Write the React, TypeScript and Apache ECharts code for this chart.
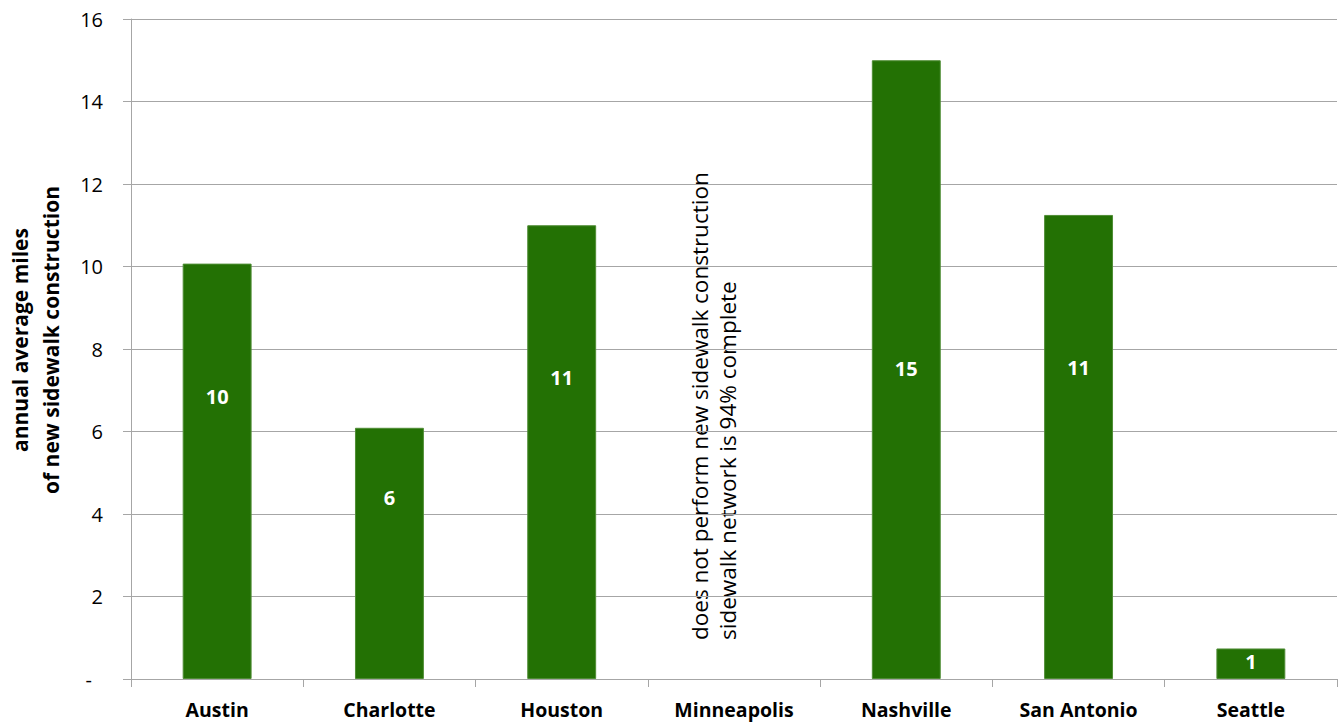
import React, { useEffect, useRef } from "react";
import * as echarts from "echarts";

// Cities and annual average miles of new sidewalk built
const cities = ["Austin", "Charlotte", "Houston", "Minneapolis", "Nashville", "San Antonio", "Seattle"];
const milesPerYear: (number | null)[] = [10.07, 6.09, 11.0, null, 15.0, 11.25, 0.74];
const yTicks = [0, 2, 4, 6, 8, 10, 12, 14, 16];

// Vertical shift (px) of each value label away from the bar centre
const labelShift = [-75, -56, -75, 0, -1, -79, -2];

const noteLines = [
  "does not perform new sidewalk construction",
  "sidewalk network is 94% complete",
];

const FONT = "'Open Sans', 'Noto Sans', sans-serif";
const GREEN = "#237104";
const GRID_GRAY = "#a6a6a6";

export default function App() {
  const ref = useRef<HTMLDivElement>(null);

  useEffect(() => {
    document.body.style.margin = "0";
    if (!ref.current) return;
    const chart = echarts.init(ref.current, null, { renderer: "svg" });

    const barData = milesPerYear.map((v, i) =>
      v == null
        ? null
        : {
            value: v,
            label: { offset: [0, labelShift[i]] },
          }
    );

    chart.setOption({
      animation: false,
      backgroundColor: "#ffffff",
      grid: {
        left: 131,
        right: 1,
        top: 19,
        bottom: 43,
        containLabel: false,
        outerBoundsMode: "none",
      },
      xAxis: {
        type: "category",
        data: cities,
        boundaryGap: true,
        axisLine: { show: true, lineStyle: { color: GRID_GRAY, width: 1 } },
        axisTick: { show: true, length: 8, inside: false, lineStyle: { color: GRID_GRAY } },
        axisLabel: {
          margin: 20,
          color: "#000",
          fontFamily: FONT,
          fontWeight: "bold",
          fontSize: 19.5,
          interval: 0,
        },
      },
      yAxis: {
        type: "value",
        min: yTicks[0],
        max: yTicks[yTicks.length - 1],
        interval: 2,
        name: "annual average miles\nof new sidewalk construction",
        nameLocation: "middle",
        nameRotate: 90,
        nameGap: 65,
        nameTextStyle: {
          color: "#000",
          fontFamily: FONT,
          fontWeight: "bold",
          fontSize: 21,
          lineHeight: 31,
          padding: [0, 0, 0, 18],
        },
        axisLine: { show: true, lineStyle: { color: GRID_GRAY, width: 1 } },
        axisTick: { show: true, length: 8, inside: false, lineStyle: { color: GRID_GRAY } },
        splitLine: { show: true, lineStyle: { color: GRID_GRAY, width: 1 } },
        axisLabel: {
          margin: 28,
          color: "#000",
          fontFamily: FONT,
          fontSize: 20,
          formatter: (v: number) => (v === 0 ? "{dash|-}" : String(v)),
          rich: {
            dash: { padding: [0, 11, 0, 0], fontFamily: FONT, fontSize: 20, color: "#000" },
          },
        },
      },
      series: [
        {
          type: "bar",
          data: barData,
          barWidth: "40%",
          itemStyle: { color: GREEN, borderColor: "#4f8d35", borderWidth: 1 },
          label: {
            show: true,
            position: "inside",
            color: "#ffffff",
            fontFamily: FONT,
            fontWeight: "bold",
            fontSize: 20,
            formatter: (p: any) => String(Math.round(p.value)),
          },
        },
      ],
      graphic: [
        {
          type: "text",
          x: 713,
          y: 640,
          rotation: Math.PI / 2,
          style: {
            text: noteLines.join("\n"),
            fill: "#000",
            font: `22.5px ${FONT}`,
            textAlign: "left",
            textVerticalAlign: "middle",
            lineHeight: 28,
          },
        },
      ],
    });

    return () => chart.dispose();
  }, []);

  return <div ref={ref} style={{ width: 1338, height: 722 }} />;
}
